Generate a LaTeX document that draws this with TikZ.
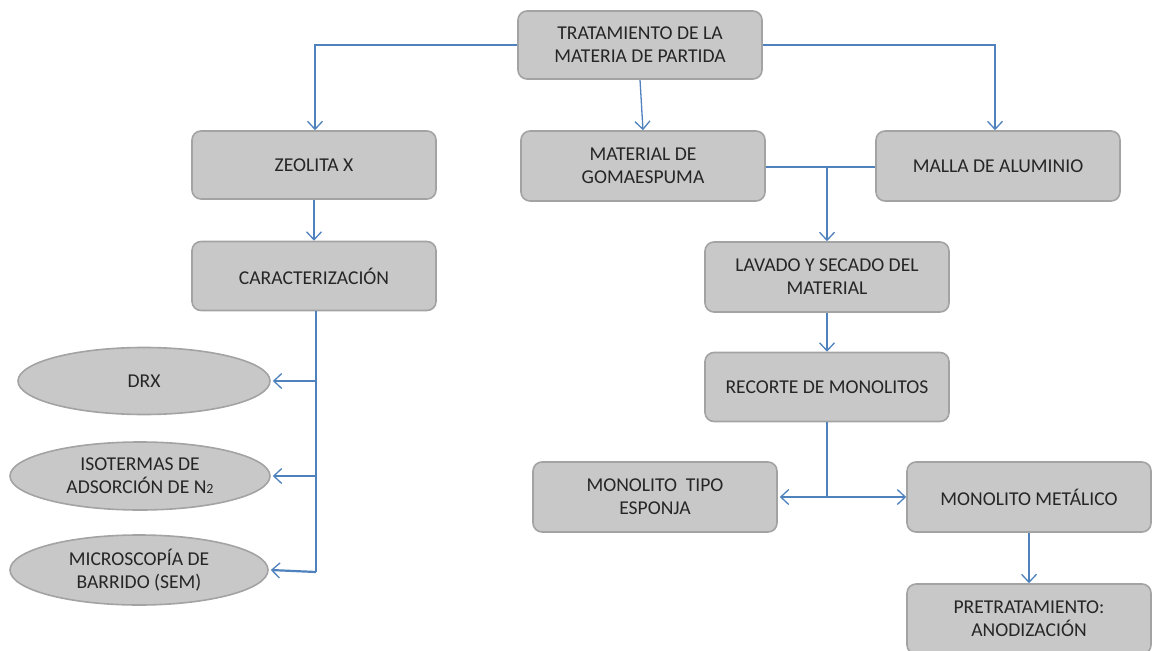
\documentclass[tikz,border=0pt]{standalone}
\usepackage{fontspec}
\setmainfont{Carlito}
\usetikzlibrary{arrows.meta,shapes.geometric}
\definecolor{boxfill}{HTML}{C8C8C8}
\definecolor{boxline}{HTML}{A3A3A3}
\definecolor{arrowblue}{HTML}{4F81BD}
\definecolor{txt}{HTML}{262626}
\tikzset{
  box/.style={draw=boxline, line width=1.6pt, fill=boxfill, rounded corners=9pt,
    minimum width=244pt, minimum height=68pt, inner sep=0pt, align=center,
    font=\fontsize{19.6}{23}\selectfont, text=txt},
  oval/.style={ellipse, draw=boxline, line width=1.6pt, fill=boxfill,
    inner sep=0pt, align=center, font=\fontsize{19.6}{23}\selectfont, text=txt},
  conn/.style={draw=arrowblue, line width=1.3pt},
  arr/.style={conn, -{Straight Barb[length=8pt,width=15pt,line width=1.3pt]}},
}
\begin{document}
\begin{tikzpicture}[x=1pt,y=-1pt]
\useasboundingbox (0,0) rectangle (1155,650);
% boxes
\node[box] (top) at (640,45) {TRATAMIENTO DE LA\\MATERIA DE PARTIDA};
\node[box] (zeo) at (314,165) {ZEOLITA X};
\node[box, minimum height=70pt] (goma) at (643,166) {MATERIAL DE\\GOMAESPUMA};
\node[box, minimum height=70pt] (malla) at (998,166) {MALLA DE ALUMINIO};
\node[box, minimum height=69pt] (car) at (314,276) {CARACTERIZACIÓN};
\node[box, minimum height=70pt] (lav) at (827,277) {LAVADO Y SECADO DEL\\MATERIAL};
\node[box, minimum height=69pt] (rec) at (827,387) {RECORTE DE MONOLITOS};
\node[box, minimum height=70pt] (esp) at (655,497) {MONOLITO\ \ TIPO\\ESPONJA};
\node[box, minimum height=70pt] (met) at (1029,497) {MONOLITO METÁLICO};
\node[box, minimum height=70pt] (pre) at (1029,619) {PRETRATAMIENTO:\\ANODIZACIÓN};
% ellipses
\node[oval, minimum width=252pt, minimum height=67pt] (drx) at (144,381) {DRX};
\node[oval, minimum width=260pt, minimum height=68pt] (iso) at (140,476) {ISOTERMAS DE\\ADSORCIÓN DE N{\fontsize{14}{14}\selectfont 2}};
\node[oval, minimum width=258pt, minimum height=70pt] (mic) at (139,570) {MICROSCOPÍA DE\\BARRIDO (SEM)};
% coordinates
\coordinate (tl) at (315,45);
\coordinate (tr) at (995,45);
\coordinate (gj) at (827,167);
\coordinate (cb) at (316,572);
\coordinate (rj) at (827,497);
% connectors
\draw[arr] (top.west) -- (tl) -- (zeo.north -| tl);
\draw[arr] (top.east) -- (tr) -- (malla.north -| tr);
\draw[arr] (top.south) -- (goma.north);
\draw[arr] (zeo.south) -- (car.north);
\draw[conn, line width=1.8pt] (car.south -| cb) -- (cb);
\draw[arr] (drx.east -| cb) -- ([xshift=2pt]drx.east);
\draw[arr] (iso.east -| cb) -- ([xshift=2pt]iso.east);
\draw[arr, line width=2.2pt] (cb) -- ([xshift=2pt]mic.east);
\draw[conn] (goma.east |- gj) -- (malla.west |- gj);
\draw[arr, line width=1.8pt] (gj) -- (lav.north);
\draw[arr] (lav.south) -- (rec.north);
\draw[conn] (rec.south) -- (rj);
\draw[arr] (rj) -- ([xshift=2pt]esp.east);
\draw[arr] (rj) -- (met.west);
\draw[arr] (met.south) -- (pre.north);
\end{tikzpicture}
\end{document}
